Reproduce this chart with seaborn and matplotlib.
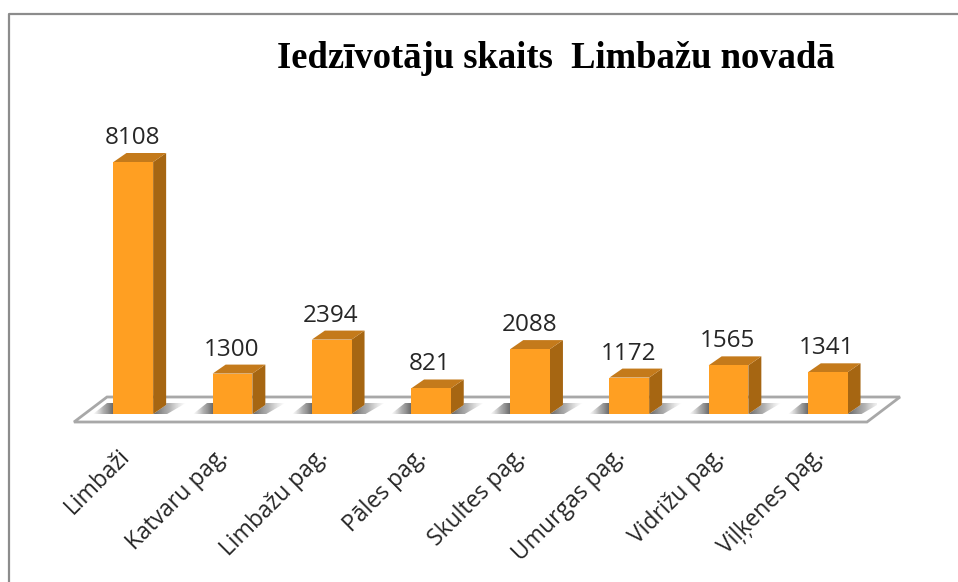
import matplotlib
matplotlib.use("Agg")
import numpy as np
import pandas as pd
import matplotlib.pyplot as plt
import seaborn as sns
from matplotlib.patches import Polygon
from matplotlib.transforms import IdentityTransform
from matplotlib.colors import LinearSegmentedColormap

# dati no attela
vietas = ["Limbaži", "Katvaru pag.", "Limbažu pag.", "Pāles pag.",
          "Skultes pag.", "Umurgas pag.", "Vidrižu pag.", "Viļķenes pag."]
iedzivotaji = [8108, 1300, 2394, 821, 2088, 1172, 1565, 1341]
virsraksts = "Iedzīvotāju skaits  Limbažu novadā"

W, H = 958, 582
DPI = 100
DX, DY = 13, 9  # bar depth in pixels

sns.set_theme(style="white")
plt.rcParams["font.family"] = ["Open Sans", "DejaVu Sans"]

df = pd.DataFrame({"vieta": vietas, "skaits": iedzivotaji})

fig = plt.figure(figsize=(W / DPI, H / DPI), dpi=DPI, facecolor="white")
# axes placed so that category spacing and value scale match the picture
ax = fig.add_axes([83.7 / W, (H - 414) / H, 793.6 / W, 314 / H])
ax.set_zorder(2)
ax.patch.set_alpha(0)

sns.barplot(data=df, x="vieta", y="skaits", color="#FF9F22", saturation=1,
            width=0.4, linewidth=0, edgecolor="none", ax=ax, zorder=5)
ax.set_ylim(0, 10103)
ax.set_xlim(-0.5, 7.5)
sns.despine(ax=ax, left=True, bottom=True)
ax.set_xlabel("")
ax.set_ylabel("")
ax.set_yticks([])
ax.set_xticks([])

fig.canvas.draw()
px = IdentityTransform()


def to_px(fx, fy):
    return (fx, H - fy)


# outer frame, only left and top are visible
frame = [to_px(8.5, 582), to_px(8.5, 13.5), to_px(958, 13.5)]
fig.add_artist(plt.Line2D([p[0] for p in frame], [p[1] for p in frame],
                          transform=px, color="#8C8C8C", lw=1.6, zorder=0))

# floor
floor = Polygon([to_px(74, 422), to_px(107, 397), to_px(900, 397), to_px(867, 422)],
                closed=True, facecolor="white", edgecolor="#A8A8A8", lw=2,
                transform=px, zorder=1)
fig.add_artist(floor)

fade_l = LinearSegmentedColormap.from_list(
    "l", [(0.7, 0.7, 0.7, 0), (0.6, 0.6, 0.6, 0.75), (0.42, 0.42, 0.42, 1)])
fade_r = LinearSegmentedColormap.from_list(
    "r", [(0.4, 0.4, 0.4, 1), (0.6, 0.6, 0.6, 0.75), (0.72, 0.72, 0.72, 0)])
grad = np.linspace(0, 1, 64).reshape(1, -1)
SH = 11  # shadow height on the floor

for i, (bar, val) in enumerate(zip(ax.patches, iedzivotaji)):
    (x0, y0), (x1, y1) = ax.transData.transform(
        [(bar.get_x(), 0), (bar.get_x() + bar.get_width(), bar.get_height())])

    # soft shadows on the floor, left and right of the bar
    shadows = [
        (fade_l, x0 - 20, x0, [(x0 - 20, y0), (x0, y0), (x0, y0 + SH), (x0 - 6, y0 + SH)]),
        (fade_r, x1, x1 + 33, [(x1, y0), (x1 + DX, y0 + DY), (x1 + DX, y0 + SH),
                               (x1 + 33, y0 + SH), (x1 + 14, y0)]),
    ]
    for cmap, e0, e1, outline in shadows:
        im = ax.imshow(grad, cmap=cmap, aspect="auto", zorder=1.5,
                       extent=(e0, e1, y0, y0 + SH), transform=px,
                       interpolation="bilinear")
        clip = Polygon(outline, closed=True, transform=px)
        im.set_clip_path(clip)

    # right side and top of the box
    ax.add_patch(Polygon([(x1, y0), (x1 + DX, y0 + DY), (x1 + DX, y1 + DY), (x1, y1)],
                         closed=True, facecolor="#A66612", edgecolor="none",
                         transform=px, zorder=4, clip_on=False))
    ax.add_patch(Polygon([(x0, y1), (x0 + DX, y1 + DY), (x1 + DX, y1 + DY), (x1, y1)],
                         closed=True, facecolor="#C47A1B", edgecolor="none",
                         transform=px, zorder=4, clip_on=False))

    ax.text((x0 + x1) / 2 - 1, y1 + 12, str(val), transform=px, ha="center",
            va="bottom", fontsize=17.5, color="#262626", clip_on=False)

    # rotated category labels, anchored by their upper right end
    ax.text(x0 + 4, y0 - 30, vietas[i], transform=px,
            ha="right", va="top", rotation=45, rotation_mode="anchor",
            fontsize=16.5, color="#262626", clip_on=False)

ax.set_xlim(-0.5, 7.5)
ax.set_ylim(0, 10103)

fig.text(556 / W, (H - 58) / H, virsraksts, ha="center", va="center",
         family="Liberation Serif", fontweight="bold", fontsize=26.4, color="black")

fig.savefig("out.png", dpi=DPI)
